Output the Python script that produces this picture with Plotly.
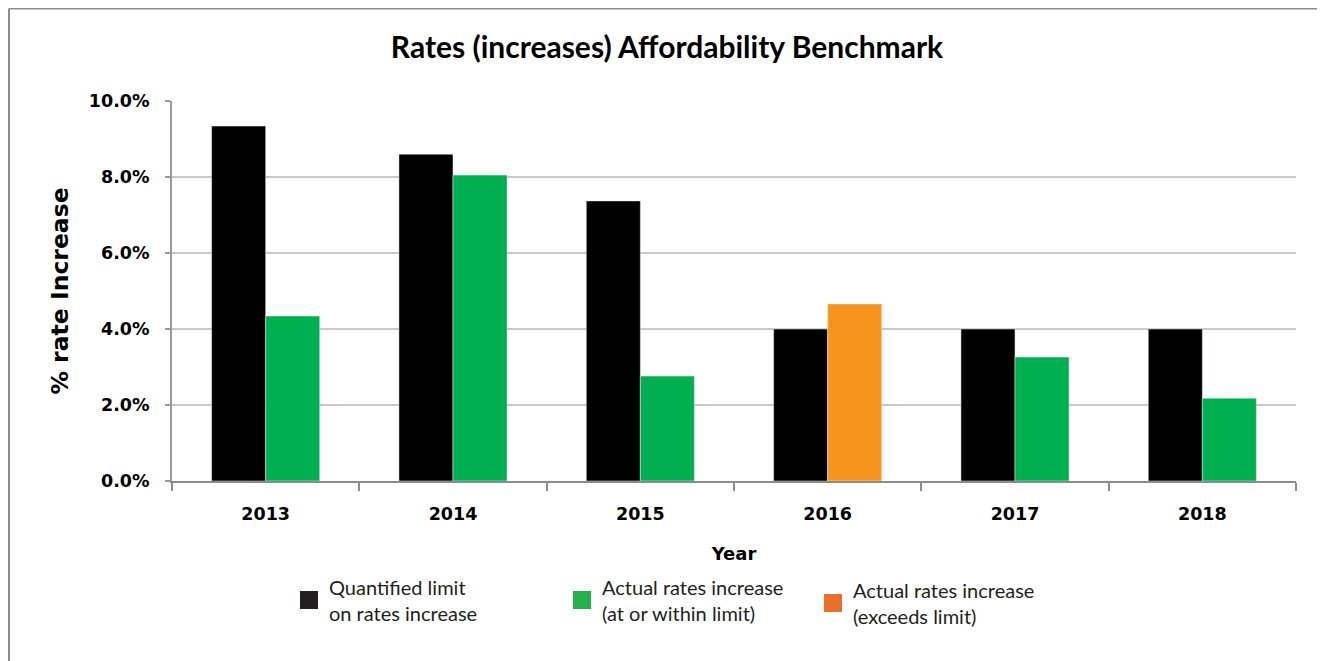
import plotly.graph_objects as go

years = ["2013", "2014", "2015", "2016", "2017", "2018"]
limit_vals = [0.0934, 0.0860, 0.0737, 0.0400, 0.0400, 0.0400]
within_vals = [0.0434, 0.0805, 0.0276, None, 0.0326, 0.0218]
exceeds_vals = [None, None, None, 0.0466, None, None]

names = ["Quantified limit<br>on rates increase",
         "Actual rates increase<br>(at or within limit)",
         "Actual rates increase<br>(exceeds limit)"]
bar_colors = ["#000000", "#00b050", "#f7941d"]
legend_colors = ["#231f20", "#22b14c", "#e8702a"]

# page body has an 8px margin; work in screen pixels and convert
OFF = 8
SW, SH = 1325, 661
W, H = SW - OFF, SH - OFF
L, T = 172 - OFF, 101 - OFF
R, B = SW - 1296, SH - 481
pw, ph = W - L - R, H - T - B

def px_x(px):
    return (px - OFF - L) / pw

def px_y(py):
    return (H - B - (py - OFF)) / ph

fig = go.Figure()
fig.add_trace(go.Bar(x=years, y=limit_vals, marker_color=bar_colors[0],
                     offsetgroup="a", showlegend=False))
fig.add_trace(go.Bar(x=years, y=within_vals, marker_color=bar_colors[1],
                     offsetgroup="b", showlegend=False))
fig.add_trace(go.Bar(x=years, y=exceeds_vals, marker_color=bar_colors[2],
                     offsetgroup="b", showlegend=False))

legend_ids = ["legend", "legend2", "legend3"]
for nm, col, lid in zip(names, legend_colors, legend_ids):
    fig.add_trace(go.Scatter(x=[None], y=[None], mode="markers", name=nm,
                             legend=lid,
                             marker=dict(symbol="square", size=16, color=col,
                                         line=dict(color=col, width=2))))

legend_font = dict(family="Lato", size=20, color="#231f20")
leg_common = dict(font=legend_font, bgcolor="rgba(0,0,0,0)", yanchor="middle",
                  xanchor="left", itemsizing="trace", valign="middle")

fig.update_layout(
    width=W, height=H,
    margin=dict(l=L, r=R, t=T, b=B, autoexpand=False),
    paper_bgcolor="white", plot_bgcolor="white",
    barmode="group", bargap=0.423, bargroupgap=0,
    title=dict(text="<b>Rates (increases) Affordability Benchmark</b>",
               x=px_x(667), xanchor="center", xref="paper",
               y=1 - (47 - OFF) / H, yanchor="middle",
               font=dict(family="Lato", size=30, color="#000000")),
    legend=dict(x=px_x(289), y=px_y(600), **leg_common),
    legend2=dict(x=px_x(562), y=px_y(600), **leg_common),
    legend3=dict(x=px_x(813), y=px_y(603), **leg_common),
    xaxis=dict(
        type="category", showgrid=False, showline=True, linecolor="#8c8c8c",
        linewidth=2, ticks="outside", tickson="boundaries", ticklen=8,
        tickcolor="#8c8c8c", tickwidth=2, ticklabelstandoff=16,
        tickfont=dict(family="DejaVu Sans", size=17.5, color="#000000", weight="bold"),
        title=dict(text="<b>Year</b>", standoff=24,
                   font=dict(family="DejaVu Sans", size=18, color="#000000")),
    ),
    yaxis=dict(
        range=[0, 0.10], dtick=0.02, tickformat=".1%",
        showgrid=True, gridcolor="#c8c8c8", gridwidth=2,
        showline=True, linecolor="#9a9a9a", linewidth=2,
        ticks="outside", ticklen=5, tickcolor="#9a9a9a", tickwidth=2,
        ticklabelstandoff=12,
        tickfont=dict(family="DejaVu Sans", size=17.5, color="#000000", weight="bold"),
        title=dict(text="<b>% rate Increase</b>", standoff=14,
                   font=dict(family="DejaVu Sans", size=23.5, color="#000000")),
        zeroline=False,
    ),
    shapes=[
        dict(type="line", xref="paper", yref="paper",
             x0=px_x(9), x1=px_x(9), y0=px_y(8.5), y1=px_y(SH + 2),
             line=dict(color="#8c8c8c", width=2)),
        dict(type="line", xref="paper", yref="paper",
             x0=px_x(9), x1=px_x(SW + 2), y0=px_y(8.5), y1=px_y(8.5),
             line=dict(color="#8c8c8c", width=2)),
    ],
)

fig.write_html("out.html")
